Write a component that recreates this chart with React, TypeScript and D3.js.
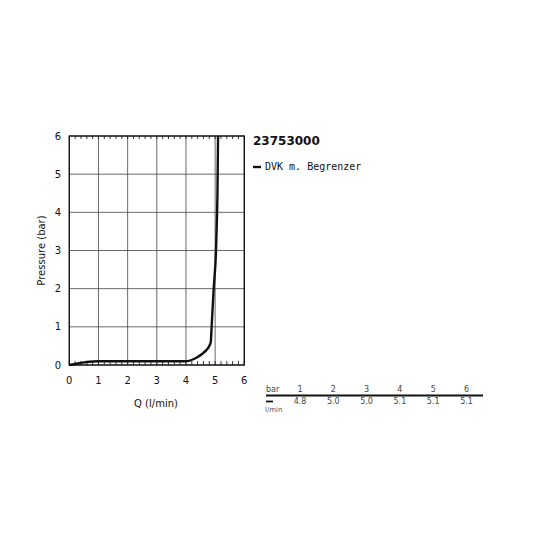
import React from "react";
import * as d3 from "d3";

const flowQ = [0, 0.3, 0.6, 1.0, 2.0, 3.0, 4.0, 4.1, 4.25, 4.4, 4.55, 4.7, 4.8, 4.85, 4.88, 4.95, 5.03, 5.06, 5.08, 5.1];
const pressure = [0, 0.04, 0.08, 0.1, 0.1, 0.1, 0.1, 0.11, 0.15, 0.21, 0.29, 0.39, 0.5, 0.6, 1.0, 2.0, 3.0, 3.8, 4.5, 6.0];
const xTicks = [0, 1, 2, 3, 4, 5, 6];
const yTicks = [0, 1, 2, 3, 4, 5, 6];
const tableBar = ["1", "2", "3", "4", "5", "6"];
const tableFlow = ["4.8", "5.0", "5.0", "5.1", "5.1", "5.1"];
const title = "23753000";
const seriesName = "DVK m. Begrenzer";

export default function App() {
  const x = d3.scaleLinear().domain([0, 6]).range([69.3, 244.3]);
  const y = d3.scaleLinear().domain([0, 6]).range([365, 136]);
  const minor = d3.range(0, 6.0001, 0.2);
  const line = d3
    .line<number>()
    .x((_, i) => x(flowQ[i]))
    .y((d) => y(d))
    .curve(d3.curveMonotoneX);
  const sans = "DejaVu Sans, sans-serif";
  const tx = d3.scaleLinear().domain([0, 5]).range([300, 466.5]);
  return (
    <svg width={550} height={550} style={{ position: "absolute", left: 0, top: 0 }}>
      <rect width={550} height={550} fill="#fff" />
      {xTicks.map((t) => (
        <line key={"gx" + t} x1={x(t)} x2={x(t)} y1={y(0)} y2={y(6)} stroke="#444" strokeWidth={0.8} />
      ))}
      {yTicks.map((t) => (
        <line key={"gy" + t} x1={x(0)} x2={x(6)} y1={y(t)} y2={y(t)} stroke="#444" strokeWidth={0.8} />
      ))}
      {minor.map((t, i) => (
        <g key={"m" + i}>
          <line x1={x(t)} x2={x(t)} y1={y(6)} y2={y(6) + 3} stroke="#222" strokeWidth={0.9} />
          <line x1={x(t)} x2={x(t)} y1={y(0)} y2={y(0) - 4} stroke="#222" strokeWidth={0.9} />
        </g>
      ))}
      <rect x={x(0)} y={y(6)} width={x(6) - x(0)} height={y(0) - y(6)} fill="none" stroke="#111" strokeWidth={1.3} />
      <path d={line(pressure) || ""} fill="none" stroke="#111" strokeWidth={2.4} strokeLinejoin="round" />
      {yTicks.map((t) => (
        <text key={"ly" + t} x={61} y={y(t) + 3.5} textAnchor="end" fontFamily={sans} fontSize={10} fill="#111">
          {t}
        </text>
      ))}
      {xTicks.map((t) => (
        <text key={"lx" + t} x={x(t)} y={384} textAnchor="middle" fontFamily={sans} fontSize={10} fill="#111">
          {t}
        </text>
      ))}
      <text x={156} y={407} textAnchor="middle" fontFamily={sans} fontSize={10} fill="#111">
        Q (l/min)
      </text>
      <text transform={`translate(45,${(y(0) + y(6)) / 2}) rotate(-90)`} textAnchor="middle" fontFamily={sans} fontSize={10} fill="#111">
        Pressure (bar)
      </text>
      <text x={253} y={145} fontFamily={sans} fontWeight="bold" fontSize={12} fill="#111">
        {title}
      </text>
      <line x1={253} x2={261} y1={167} y2={167} stroke="#111" strokeWidth={2.4} />
      <text x={265} y={170} fontFamily="DejaVu Sans Mono, monospace" fontSize={10} fill="#111">
        {seriesName}
      </text>
      <text x={266} y={392} fontFamily={sans} fontSize={8} fill="#444">bar</text>
      {tableBar.map((b, i) => (
        <text key={"tb" + i} x={tx(i)} y={392} textAnchor="middle" fontFamily={sans} fontSize={8} fill="#444">
          {b}
        </text>
      ))}
      <line x1={266} x2={483} y1={395.5} y2={395.5} stroke="#111" strokeWidth={1.8} />
      <line x1={266} x2={273} y1={401.5} y2={401.5} stroke="#111" strokeWidth={1.8} />
      {tableFlow.map((v, i) => (
        <text key={"tf" + i} x={tx(i)} y={404} textAnchor="middle" fontFamily={sans} fontSize={8} fill="#444">
          {v}
        </text>
      ))}
      <text x={265} y={412} fontFamily={sans} fontSize={7} fill="#555">l/min</text>
    </svg>
  );
}
